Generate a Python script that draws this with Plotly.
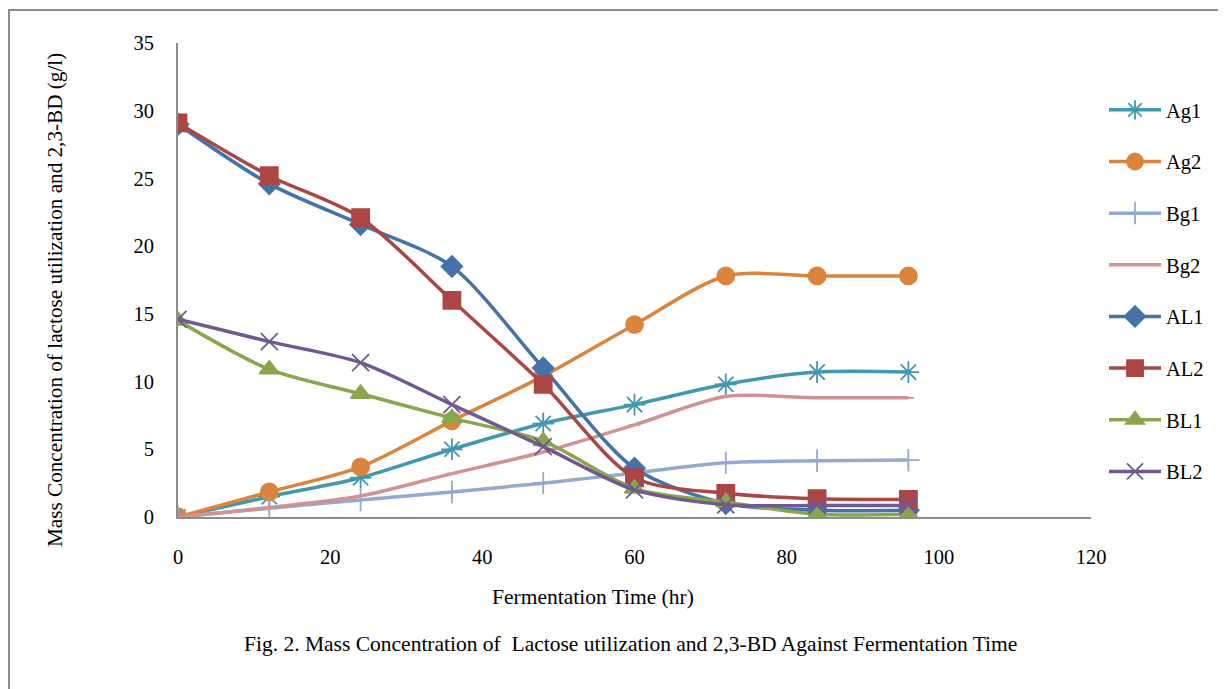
import plotly.graph_objects as go

time_hr = [0, 12, 24, 36, 48, 60, 72, 84, 96]

Ag1 = [0, 1.5, 2.9, 5.0, 6.9, 8.3, 9.8, 10.7, 10.7]
Ag2 = [0, 1.85, 3.7, 7.1, 10.4, 14.2, 17.8, 17.8, 17.8]
Bg1 = [0, 0.65, 1.25, 1.85, 2.5, 3.25, 4.0, 4.15, 4.2]
Bg2 = [0, 0.7, 1.55, 3.2, 4.8, 6.8, 8.9, 8.8, 8.8]
AL1 = [29.0, 24.6, 21.6, 18.5, 11.0, 3.6, 1.0, 0.5, 0.5]
AL2 = [29.1, 25.2, 22.1, 16.0, 9.8, 2.9, 1.75, 1.35, 1.3]
BL1 = [14.5, 10.9, 9.1, 7.3, 5.6, 2.1, 1.1, 0.2, 0.2]
BL2 = [14.6, 12.95, 11.4, 8.3, 5.2, 2.0, 0.9, 0.85, 0.85]

series_names = ["Ag1", "Ag2", "Bg1", "Bg2", "AL1", "AL2", "BL1", "BL2"]
series_values = [Ag1, Ag2, Bg1, Bg2, AL1, AL2, BL1, BL2]
colors = ["#4198AF", "#DB843D", "#93A9CF", "#D19392", "#4572A7", "#AA4643", "#89A54E", "#71588F"]
symbols = ["asterisk-open", "circle", "cross-thin-open", "line-ew-open", "diamond", "square", "triangle-up", "x-thin-open"]
sizes = [18, 17, 16, 8, 16, 17, 17, 17]

x_ticks = [0, 20, 40, 60, 80, 100, 120]
y_ticks = [0, 5, 10, 15, 20, 25, 30, 35]

FONT = "Liberation Serif, Times New Roman, serif"

# page body has an 8px offset
OFF = 8
L, T = 178 - OFF, 43 - OFF
PW, PH = 913, 474
R = 1226 - L - PW
B = 689 - T - PH


def px(xp):
    return (xp - OFF - L) / PW


def py(yp):
    return (T + PH - (yp - OFF)) / PH


fig = go.Figure()
for name, vals, col, sym, sz in zip(series_names, series_values, colors, symbols, sizes):
    fig.add_trace(go.Scatter(
        x=time_hr, y=vals, name=name, mode="lines+markers",
        line=dict(color=col, width=3.5, shape="spline", smoothing=0.8),
        marker=dict(symbol=sym, size=sz, color=col, line=dict(color=col, width=1.8)),
        legendgroup=name,
    ))

fig.update_layout(
    width=1226, height=689,
    margin=dict(l=L, r=R, t=T, b=B),
    paper_bgcolor="white", plot_bgcolor="white",
    font=dict(family=FONT, size=20, color="black"),
    showlegend=True,
    legend=dict(x=px(1104), y=py(90), xanchor="left", yanchor="top",
                font=dict(family=FONT, size=20.5), tracegroupgap=22,
                bgcolor="rgba(0,0,0,0)", itemwidth=52),
    xaxis=dict(range=[0, 120], tickvals=x_ticks, showgrid=False, zeroline=False,
               showline=True, linecolor="#8c8c8c", linewidth=2,
               ticks="outside", ticklen=20, tickcolor="rgba(0,0,0,0)",
               tickfont=dict(family=FONT, size=20.5)),
    yaxis=dict(range=[0, 35], tickvals=y_ticks, showgrid=False, zeroline=False,
               showline=True, linecolor="#8c8c8c", linewidth=2,
               ticks="outside", ticklen=18, tickcolor="rgba(0,0,0,0)",
               tickfont=dict(family=FONT, size=20.5)),
    shapes=[dict(type="rect", xref="paper", yref="paper",
                 x0=px(9), x1=1.3, y0=-0.5, y1=py(10),
                 line=dict(color="#8c8c8c", width=2), fillcolor="rgba(0,0,0,0)", layer="below")],
    annotations=[
        dict(text="Mass Concentration of lactose utilization and 2,3-BD (g/l)",
             xref="paper", yref="paper", x=px(55), y=py(300),
             textangle=-90, showarrow=False, font=dict(family=FONT, size=21.2),
             xanchor="center", yanchor="middle"),
        dict(text="Fermentation Time (hr)", xref="paper", yref="paper",
             x=px(593), y=py(597), showarrow=False,
             font=dict(family=FONT, size=21.5), xanchor="center", yanchor="middle"),
        dict(text="Fig. 2. Mass Concentration of  Lactose utilization and 2,3-BD Against Fermentation Time",
             xref="paper", yref="paper", x=px(630), y=py(644), showarrow=False,
             font=dict(family=FONT, size=21.5), xanchor="center", yanchor="middle"),
    ],
)

fig.write_html("out.html")
